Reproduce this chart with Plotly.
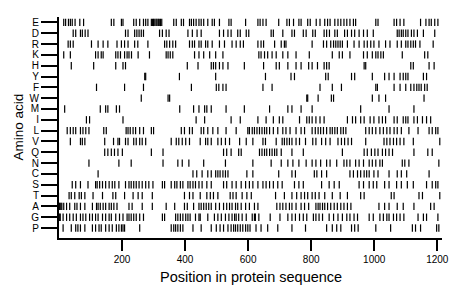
import plotly.graph_objects as go

# Amino acids, top to bottom as drawn
amino_acids = ["E", "D", "R", "K", "H", "Y", "F", "W", "M", "I",
               "L", "V", "Q", "N", "C", "S", "T", "A", "G", "P"]

pos_E = [15, 21, 30, 36, 42, 51, 66, 78, 166, 174, 198, 203, 237, 245, 256, 268, 275, 282,
         293, 297, 300, 304, 308, 311, 315, 318, 322, 326, 364, 372, 388, 395,
         414, 420, 427, 435, 444, 451, 459, 472, 486, 493, 509, 539, 546, 592, 631, 638, 647, 657,
         697, 723, 731, 744, 761, 768, 789, 797, 816,
         828, 843, 852, 860, 875, 885, 894, 904, 913, 923, 934, 941, 1005, 1012, 1063, 1071,
         1082, 1094, 1147, 1164, 1174, 1181, 1192, 1202]
pos_D = [45, 53, 68, 74, 83, 92, 211, 219, 240, 247, 254, 261, 268, 319, 328, 340, 349,
         409, 423, 438, 451, 509, 522, 536, 546, 567, 575, 594, 602, 673, 680, 710, 739, 747,
         775, 784, 805, 813, 841, 849, 858, 875, 883, 906, 915, 928, 938, 952, 966, 978, 997,
         1073, 1079, 1086, 1092, 1100, 1107, 1118, 1126, 1137, 1156, 1192]
pos_R = [29, 36, 45, 103, 124, 140, 155, 184, 198, 208, 219, 240, 250, 282, 335, 342, 351, 361, 370,
         414, 423, 430, 444, 451, 465, 472, 486, 509, 525, 549, 562, 575, 585, 631, 641, 649, 684,
         705, 715, 720, 803, 839, 849, 862, 871, 878, 885, 892, 899, 915, 936, 952, 968, 978, 989,
         999, 1015, 1036, 1050, 1073, 1086, 1100, 1107, 1116, 1124, 1131, 1145, 1187]
pos_K = [15, 36, 116, 124, 134, 140, 180, 187, 195, 208, 216, 222, 230, 251, 287, 340, 346, 353, 361,
         430, 444, 459, 478, 497, 520, 634, 641, 652, 662, 676, 689, 710, 726, 752, 794,
         867, 889, 899, 923, 966, 978, 994, 1005, 1012, 1021, 1029, 1089, 1160, 1170]
pos_H = [39, 110, 180, 203, 211, 407, 441, 483, 490, 497, 509, 520, 536, 588, 649, 689, 699, 726,
         752, 768, 792, 803, 820, 841, 849, 857, 968, 973, 1116, 1124, 1174, 1190]
pos_Y = [272, 275, 382, 497, 655, 736, 747, 846, 854, 928, 938, 994, 1033, 1047, 1063, 1082, 1092,
         1100, 1107, 1156, 1166]
pos_F = [119, 208, 268, 420, 499, 507, 520, 530, 647, 676, 828, 867, 896, 1005, 1010, 1063, 1082,
         1100, 1116, 1126, 1135, 1142, 1149, 1160, 1168]
pos_W = [261, 346, 351, 786, 789, 822, 864, 871, 994, 1015, 1036, 1158]
pos_M = [18, 131, 148, 155, 182, 192, 383, 427, 444, 462, 469, 483, 530, 588, 668, 726, 739, 768,
         803, 957, 1047, 1126]
pos_I = [87, 97, 203, 435, 462, 546, 575, 631, 657, 680, 699, 710, 763, 786, 794, 803,
         815, 828, 841, 915, 931, 941, 957, 968, 987, 999, 1015, 1026, 1036, 1063, 1073, 1092,
         1100, 1107, 1126, 1137, 1153, 1166, 1179]
pos_L = [26, 36, 45, 53, 68, 76, 85, 95, 142, 150, 213, 219, 226, 235, 243, 256, 268, 293, 300,
         388, 398, 414, 423, 451, 459, 472, 488, 504, 530, 562, 599, 604, 613, 620, 628, 636, 644,
         652, 659, 668, 680, 694, 710, 720, 733, 752, 768, 779, 803, 813,
         822, 830, 839, 849, 860, 867, 875, 883, 894, 902, 910, 973, 984, 994, 1005, 1018, 1029,
         1040, 1050, 1063, 1073, 1086, 1110, 1139, 1174, 1184, 1195, 1202]
pos_V = [36, 68, 74, 82, 145, 173, 187, 192, 211, 219, 237, 245, 256, 264, 275, 356, 372, 380, 391,
         402, 414, 448, 465, 472, 483, 504, 515, 528, 541, 573, 594, 615, 647, 655, 689, 708, 715,
         723, 731, 739, 752, 763, 782, 805, 815, 833, 846, 860, 885, 896, 906, 917, 928, 973, 1031,
         1040, 1050, 1061, 1071, 1082, 1094, 1124, 1208]
pos_Q = [145, 155, 166, 176, 187, 201, 293, 330, 522, 532, 546, 570, 578, 636, 644, 652, 659, 668,
         676, 684, 691, 705, 739, 775, 899, 968, 978, 991, 1002, 1012, 1026, 1036, 1047, 1058,
         1126, 1170, 1184]
pos_N = [95, 190, 229, 330, 377, 391, 412, 459, 528, 615, 673, 705, 726, 742, 761, 784, 803,
         815, 830, 849, 860, 881, 904, 913, 923, 941, 952, 966, 984, 994, 1005, 1018, 1026, 1089,
         1097, 1110, 1205]
pos_C = [124, 425, 437, 454, 472, 483, 497, 504, 511, 520, 528, 536, 596, 615, 697, 739, 750, 810,
         818, 833, 849, 923, 934, 947, 957, 968, 976, 984, 999, 1012, 1047, 1073, 1086, 1103, 1174]
pos_S = [42, 53, 68, 92, 116, 121, 129, 138, 148, 159, 169, 177, 190, 211, 222, 229, 237, 245, 254,
         264, 275, 285, 298, 328, 335, 356, 367, 374, 385, 393, 409, 416, 425, 433, 444, 454, 469,
         483, 522, 532, 549, 562, 578, 592, 604, 615, 631, 647, 657, 668, 680, 694, 708, 747, 761,
         775, 833, 857, 873, 889, 952, 966, 984, 997, 1008, 1033, 1047, 1071, 1086, 1105, 1124,
         1166, 1184, 1195, 1202]
pos_T = [32, 39, 50, 64, 71, 82, 108, 138, 171, 180, 208, 235, 251, 264, 296, 398, 414, 425, 448,
         469, 480, 490, 504, 543, 552, 562, 581, 596, 610, 687, 715, 739, 754, 768, 779, 789, 803,
         813, 825, 843, 867, 892, 915, 957, 968, 1054, 1063, 1142, 1153, 1208]
pos_A = [1, 3, 6, 9, 15, 24, 34, 50, 57, 68, 82, 106, 119, 124, 131, 140, 148, 159, 166, 174, 184,
         222, 232, 264, 296, 340, 367, 398, 407, 427, 444, 451, 459, 467, 475, 483, 497, 509, 522,
         532, 541, 549, 560, 567, 578, 592, 604, 620, 631, 691, 701, 710, 720, 731, 739, 752, 768,
         779, 792, 815, 822, 828, 836, 843, 852, 862, 873, 883, 894, 904, 915, 926, 1015, 1033,
         1047, 1073, 1092, 1126, 1179, 1190]
pos_G = [1, 4, 13, 24, 34, 45, 55, 68, 76, 85, 97, 106, 116, 124, 138, 148, 159, 166, 180, 192,
         203, 216, 222, 229, 237, 245, 256, 268, 328, 335, 370, 377, 385, 393, 402, 409, 416, 433,
         444, 448, 472, 493, 504, 515, 528, 539, 549, 557, 562, 570, 581, 594, 613, 620, 623, 634,
         670, 701, 726, 739, 750, 763, 775, 786, 807, 815, 825, 836, 857, 871, 885, 899, 913, 923,
         936, 947, 984, 997, 1018, 1029, 1040, 1047, 1061, 1071, 1082, 1094, 1139, 1156, 1166, 1202]
pos_P = [13, 39, 53, 60, 68, 82, 106, 116, 127, 134, 148, 159, 169, 182, 190, 198, 203, 208, 256,
         356, 364, 370, 377, 385, 393, 425, 451, 483, 499, 511, 522, 536, 546, 554, 560, 567, 575,
         583, 592, 599, 606, 625, 641, 662, 694, 739, 782, 849, 867, 881, 894, 928, 938, 949, 1005,
         1052, 1121, 1131, 1147, 1198, 1205]

positions = {"E": pos_E, "D": pos_D, "R": pos_R, "K": pos_K, "H": pos_H, "Y": pos_Y,
             "F": pos_F, "W": pos_W, "M": pos_M, "I": pos_I, "L": pos_L, "V": pos_V,
             "Q": pos_Q, "N": pos_N, "C": pos_C, "S": pos_S, "T": pos_T, "A": pos_A,
             "G": pos_G, "P": pos_P}

x_ticks = [200, 400, 600, 800, 1000, 1200]
x_title = "Position in protein sequence"
y_title = "Amino acid"

n = len(amino_acids)
half = 0.34
fig = go.Figure()
for i, aa in enumerate(amino_acids):
    yv = n - 1 - i
    xs, ys = [], []
    for p in positions[aa]:
        xs += [p, p, None]
        ys += [yv - half, yv + half, None]
    fig.add_trace(go.Scatter(x=xs, y=ys, mode="lines",
                             line=dict(color="black", width=1.2),
                             hoverinfo="skip", showlegend=False))

# the page body adds an 8px margin, so the figure is sized to fit the 460x299 window
fig.update_layout(
    width=452, height=291,
    margin=dict(l=51, r=18, t=9, b=61),
    paper_bgcolor="white", plot_bgcolor="white",
    font=dict(family="Liberation Sans, Arial, sans-serif", color="black"),
    xaxis=dict(range=[0, 1215], tickvals=x_ticks, ticktext=[str(v) for v in x_ticks],
               ticks="outside", ticklen=11, tickwidth=1.5, tickcolor="black",
               showline=True, linecolor="black", linewidth=2, showgrid=False, zeroline=False,
               automargin=False, tickfont=dict(size=10, color="black")),
    yaxis=dict(range=[-0.92, n - 0.5],
               tickvals=list(range(n)), ticktext=list(reversed(amino_acids)),
               ticks="outside", ticklen=16, tickwidth=1.5, tickcolor="black",
               showline=True, linecolor="black", linewidth=2, showgrid=False, zeroline=False,
               automargin=False, tickfont=dict(size=10, color="black")),
    annotations=[
        dict(text=x_title, xref="paper", yref="paper", x=0.5, y=0, yshift=-39,
             xanchor="center", yanchor="middle", showarrow=False,
             font=dict(size=14.5, color="black")),
        dict(text=y_title, xref="paper", yref="paper", x=0, y=0.5, xshift=-41,
             xanchor="center", yanchor="middle", textangle=-90, showarrow=False,
             font=dict(size=13.5, color="black")),
    ],
)

fig.write_html("out.html")
